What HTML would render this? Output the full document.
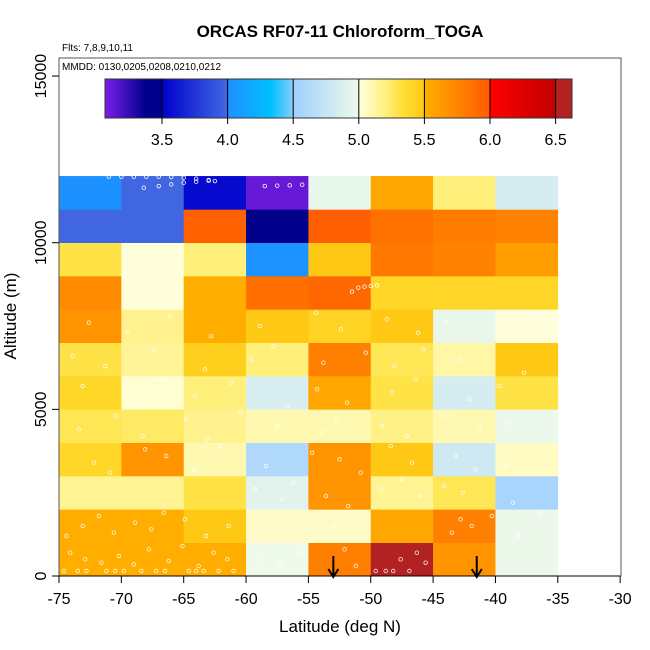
<!DOCTYPE html>
<html><head><meta charset="utf-8"><style>
body{margin:0;background:#fff;}
svg{display:block;font-family:"Liberation Sans",Arial,sans-serif;}
</style></head><body>
<svg id="chart" width="650" height="650" viewBox="0 0 650 650" xmlns="http://www.w3.org/2000/svg">
<text x="340" y="37" text-anchor="middle" font-size="17" font-weight="bold">ORCAS RF07-11 Chloroform_TOGA</text>
<text x="62" y="51" font-size="10">Flts: 7,8,9,10,11</text>
<g id="cells"></g>
<g id="pts"></g>
<rect x="59" y="58" width="562" height="518" fill="none" stroke="#555" stroke-width="1"/>
<text x="62" y="70" font-size="10">MMDD: 0130,0205,0208,0210,0212</text>
<g id="cbar"></g>
<g id="axes"></g>
<text x="340" y="632" text-anchor="middle" font-size="17">Latitude (deg N)</text>
<text transform="translate(16,316) rotate(-90)" text-anchor="middle" font-size="17">Altitude (m)</text>
</svg>
<script>
const latBins = [-75,-70,-65,-60,-55,-50,-45,-40];
const altBins = [0,1000,2000,3000,4000,5000,6000,7000,8000,9000,10000,11000];
// values[row][col], row 0 = 0-1000 m
const row0  = [5.51,5.51,5.51,5.0,5.78,6.6,5.66,4.99];
const row1  = [5.51,5.51,5.5,5.05,5.05,5.56,5.78,4.99];
const row2  = [5.16,5.16,5.31,4.92,5.66,5.16,5.28,4.56];
const row3  = [5.39,5.66,5.1,4.6,5.66,5.5,4.8,5.06];
const row4  = [5.28,5.25,5.17,5.1,5.1,5.19,5.1,4.98];
const row5  = [5.39,5.03,5.21,4.86,5.56,5.31,4.84,5.31];
const row6  = [5.31,5.15,5.45,5.21,5.78,5.28,5.12,5.5];
const row7  = [5.66,5.17,5.51,5.5,5.42,5.5,4.97,5.01];
const row8  = [5.71,5.01,5.51,5.87,5.92,5.4,5.4,5.4];
const row9  = [5.31,5.01,5.21,4.02,5.5,5.82,5.76,5.6];
const row10 = [3.99,3.99,5.96,3.45,5.97,5.86,5.8,5.76];
const row11 = [4.01,3.99,3.55,3.12,4.96,5.56,5.21,4.84];
const values = [row0,row1,row2,row3,row4,row5,row6,row7,row8,row9,row10,row11];
const cbTicks = [3.5,4.0,4.5,5.0,5.5,6.0,6.5];
const xTicks = [-75,-70,-65,-60,-55,-50,-45,-40,-35,-30];
const yTicks = [0,5000,10000,15000];
const ptLat = [-74.6,-73.5,-72.8,-71.2,-70.5,-69.8,-68.4,-67.2,-66.5,-64.6,-64.0,-63.4,-62.2,-61.0,-74.1,-72.9,-71.6,-70.2,-69.0,-67.8,-66.2,-65.1,-63.8,-62.6,-61.5,-74.4,-73.1,-71.8,-70.6,-68.9,-67.6,-66.6,-64.9,-63.2,-61.4,-58.7,-57.3,-55.8,-54.0,-52.9,-52.1,-51.2,-49.6,-48.8,-48.2,-47.6,-46.9,-46.3,-45.6,-43.5,-42.8,-41.9,-40.3,-38.2,-36.4,-59.3,-57.1,-56.2,-53.6,-51.8,-49.2,-47.5,-46.1,-44.1,-42.6,-38.6,-72.2,-70.9,-68.1,-66.4,-64.2,-62.1,-58.4,-54.7,-52.5,-50.8,-48.4,-46.7,-43.2,-41.6,-39.2,-73.4,-70.4,-68.3,-64.8,-63.1,-60.4,-57.5,-53.9,-52.7,-49.1,-47.1,-43.9,-41.3,-38.9,-73.1,-69.2,-66.8,-64.1,-61.2,-56.7,-54.3,-51.9,-48.3,-46.4,-42.1,-39.7,-73.9,-71.3,-67.4,-63.3,-59.6,-57.8,-53.8,-50.4,-48.1,-45.8,-42.9,-37.7,-72.6,-69.5,-66.1,-62.8,-58.9,-54.4,-52.4,-48.7,-46.2,-44.0,-36.8];
const ptAlt = [150,150,150,150,150,150,150,150,150,150,150,150,150,150,700,500,400,600,350,800,450,900,300,700,500,1200,1500,1800,1300,1600,1400,1900,1700,1200,1500,500,300,700,1400,1500,800,300,150,150,150,500,150,700,400,1300,1700,1500,1800,1200,1900,2600,2300,2800,2400,2100,2600,2900,2400,2700,2500,2200,3400,3100,3800,3600,3200,3900,3300,3700,3500,3100,3900,3400,3600,3200,3300,4400,4800,4200,4700,4100,4900,4500,4300,4700,4500,4200,4800,4400,4600,5700,5300,5900,5400,5800,5100,5600,5200,5500,5900,5300,5700,6600,6300,6800,6200,6500,6900,6400,6700,6300,6800,6500,6100,7600,7300,7800,7200,7500,7900,7400,7700,7300,7600,7800];
const trkLat = [-71.0,-70.0,-69.0,-68.0,-67.0,-66.0,-65.0,-64.0,-63.0,-62.5,-68.2,-67.0,-66.0,-65.0,-64.0,-63.0,-58.5,-57.5,-56.5,-55.5,-51.5,-51.0,-50.5,-50.0,-49.5];
const trkAlt = [11980,11980,11980,11980,11980,11970,11950,11920,11880,11850,11650,11700,11750,11800,11830,11860,11700,11710,11720,11740,8530,8650,8680,8700,8720];
const arrowLat = [-53.0,-41.5];

const NS='http://www.w3.org/2000/svg';
function X(lat){return 59+(lat+75)*12.47;}
function Y(alt){return 576-alt*0.03333;}
const stops=[[3.065,'#7b1fe8'],[3.38,'#00008b'],[3.5,'#00008b'],[3.5001,'#0000cd'],[4.0,'#4169e1'],[4.0001,'#1e90ff'],[4.33,'#00bfff'],[4.4999,'#87cefa'],[4.5,'#a0d0ff'],[5.0,'#eefaea'],[5.0001,'#ffffe0'],[5.2,'#fff080'],[5.35,'#ffdd30'],[5.5,'#ffc814'],[5.5001,'#ffb000'],[6.0,'#ff5a00'],[6.0001,'#ff0000'],[6.5,'#c00000'],[6.5001,'#b22222'],[7,'#b22222']];
function hex(c){return [1,3,5].map(i=>parseInt(c.substr(i,2),16));}
function cmap(v){
  if(v<=stops[0][0])return stops[0][1];
  for(let i=0;i<stops.length-1;i++){const a=stops[i],b=stops[i+1];
    if(v>=a[0]&&v<=b[0]){const t=(v-a[0])/(b[0]-a[0]);const ca=hex(a[1]),cb=hex(b[1]);
      return 'rgb('+ca.map((x,k)=>Math.round(x+(cb[k]-x)*t)).join(',')+')';}}
  return stops[stops.length-1][1];}
function el(tag,attrs,parent){const e=document.createElementNS(NS,tag);for(const k in attrs)e.setAttribute(k,attrs[k]);parent.appendChild(e);return e;}

const cells=document.getElementById('cells');
values.forEach((row,r)=>row.forEach((v,c)=>{
  const x0=X(latBins[c]),x1=X(latBins[c]+5),y0=Y(altBins[r]+1000),y1=Y(altBins[r]);
  const e=el('rect',{x:x0,y:y0,width:x1-x0+0.3,height:y1-y0+0.3,fill:cmap(v)},cells);
  
  
}));
const pts=document.getElementById('pts');
ptLat.forEach((la,i)=>{
  const e=el('circle',{cx:X(la),cy:Y(ptAlt[i]),r:1.8,fill:'none',stroke:'#fff','stroke-width':0.8,opacity:0.9},pts);
  
  
});
trkLat.forEach((la,i)=>{
  const e=el('circle',{cx:X(la),cy:Y(trkAlt[i]),r:1.8,fill:'none',stroke:'#fff','stroke-width':0.8},pts);
  
  
});
arrowLat.forEach(la=>{
  const g=el('g',{stroke:'#000','stroke-width':2,fill:'none'},pts);
  
  
  el('line',{x1:X(la),y1:556,x2:X(la),y2:577},g);
  el('polyline',{points:(X(la)-5)+',569 '+X(la)+',577 '+(X(la)+5)+',569'},g);
});
// colorbar
const cb=document.getElementById('cbar');
const cbx0=105,cbx1=572,cy0=79,cy1=118;
function CX(v){return 162+(v-3.5)*131.2;}
for(let px=cbx0;px<cbx1;px++){
  const v=3.5+(px+0.5-162)/131.2;
  el('rect',{x:px,y:cy0,width:1.2,height:cy1-cy0,fill:cmap(v)},cb);
}
el('rect',{x:cbx0,y:cy0,width:cbx1-cbx0,height:cy1-cy0,fill:'none',stroke:'#333','stroke-width':1},cb);
cbTicks.forEach(t=>{
  el('line',{x1:CX(t),y1:cy0,x2:CX(t),y2:cy1+6,stroke:'#000','stroke-width':1},cb);
  const tx=el('text',{x:CX(t),y:145,'text-anchor':'middle','font-size':16},cb);tx.textContent=t.toFixed(1);
  
  
});
// axes
const ax=document.getElementById('axes');
el('line',{x1:X(-75),y1:576,x2:X(-30),y2:576,stroke:'#000','stroke-width':1},ax);
xTicks.forEach(t=>{
  el('line',{x1:X(t),y1:576,x2:X(t),y2:583,stroke:'#000','stroke-width':1},ax);
  const tx=el('text',{x:X(t),y:604,'text-anchor':'middle','font-size':16},ax);tx.textContent=t;
  
  
});
yTicks.forEach(t=>{
  el('line',{x1:52,y1:Y(t),x2:59,y2:Y(t),stroke:'#000','stroke-width':1},ax);
  const tx=el('text',{transform:'translate(46,'+Y(t)+') rotate(-90)','text-anchor':'middle','font-size':16},ax);tx.textContent=t;
  
  
});
</script>
</body></html>
